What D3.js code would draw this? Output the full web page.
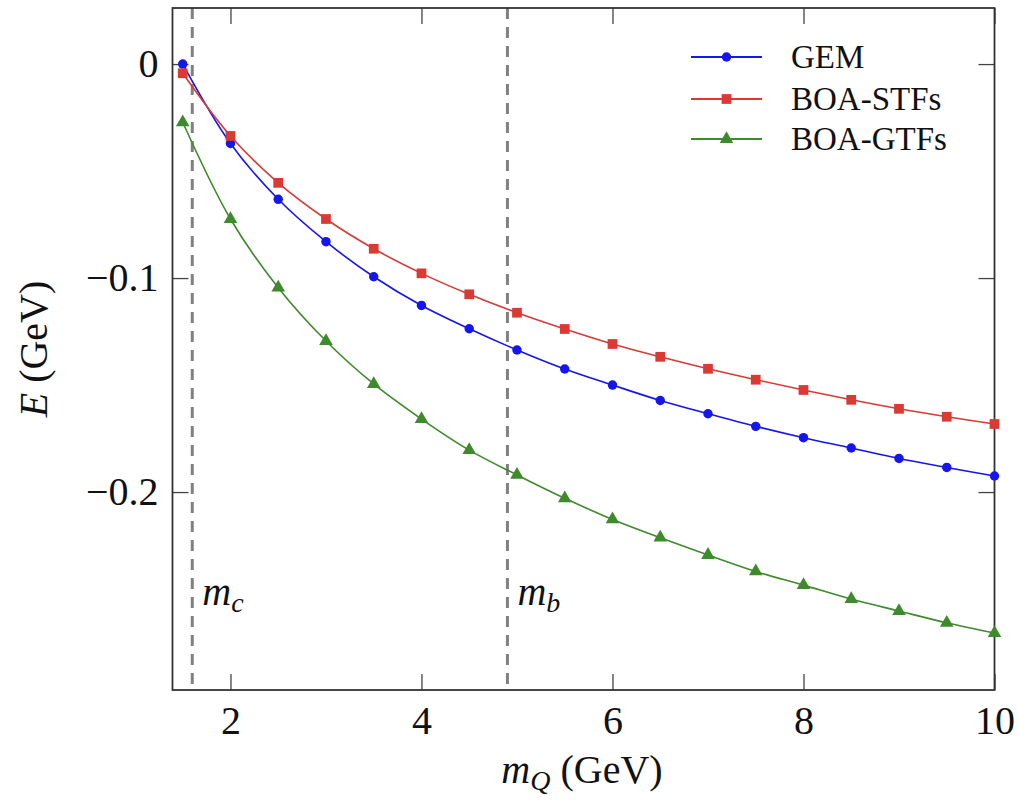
<!DOCTYPE html>
<html>
<head>
<meta charset="utf-8">
<script src="https://cdn.jsdelivr.net/npm/d3@7"></script>
<style>
  html, body { margin: 0; padding: 0; background: #fff; }
  svg { display: block; }
  text { font-family: "Liberation Serif", "Times New Roman", serif; fill: #111; }
</style>
</head>
<body>
<svg id="chart" width="1018" height="800"></svg>
<script>
// ---- data ----
const massQ = [1.5, 2, 2.5, 3, 3.5, 4, 4.5, 5, 5.5, 6, 6.5, 7, 7.5, 8, 8.5, 9, 9.5, 10];
const gem    = [0, -0.0371, -0.0632, -0.0830, -0.0994, -0.1128, -0.1237, -0.1336, -0.1425, -0.1500, -0.1572, -0.1634, -0.1693, -0.1746, -0.1794, -0.1843, -0.1885, -0.1925];
const boaSTF = [-0.0043, -0.0336, -0.0555, -0.0724, -0.0863, -0.0978, -0.1076, -0.1162, -0.1238, -0.1308, -0.1368, -0.1424, -0.1475, -0.1523, -0.1569, -0.1611, -0.1648, -0.1682];
const boaGTF = [-0.0272, -0.0724, -0.1045, -0.1294, -0.1495, -0.1659, -0.1804, -0.1920, -0.2029, -0.2128, -0.2213, -0.2294, -0.2371, -0.2435, -0.2500, -0.2556, -0.2611, -0.2659];
const seriesNames = ["GEM", "BOA-STFs", "BOA-GTFs"];
const xTicks = [2, 4, 6, 8, 10];
const yTicks = [0, -0.1, -0.2];
const yTickLabels = ["0", "\u22120.1", "\u22120.2"];
const thresholds = [{name: "c", value: 1.6}, {name: "b", value: 4.9}];

// ---- layout ----
const svg = d3.select("#chart");
const L = 172.5, R = 994.5, T = 8, B = 690;
const x = d3.scaleLinear().domain([1.393, 10]).range([L, R]);
const y = d3.scaleLinear().domain([0.0262, -0.2925]).range([T, B]);

const colors = ["#1515f0", "#d93a34", "#3f8a2c"];
const series = [gem, boaSTF, boaGTF].map((vals, i) => ({
  name: seriesNames[i], color: colors[i],
  pts: massQ.map((m, j) => ({x: m, y: vals[j]}))
}));

// threshold dashed lines
thresholds.forEach(t => {
  svg.append("line")
    .attr("x1", x(t.value)).attr("x2", x(t.value))
    .attr("y1", T).attr("y2", B)
    .attr("stroke", "#808080").attr("stroke-width", 3)
    .attr("stroke-dasharray", "11,8");
  const lab = svg.append("text")
    .attr("x", x(t.value) + 10).attr("y", 605)
    .attr("font-size", 40).attr("font-style", "italic");
  lab.append("tspan").text("m");
  lab.append("tspan").attr("font-size", 28).attr("dy", 7).text(t.name);
});

// axes (ticks inward on all sides)
const tickLen = 16;
const axB = svg.append("g").attr("transform", `translate(0,${B})`)
  .call(d3.axisBottom(x).tickValues(xTicks).tickSize(-tickLen).tickPadding(16).tickFormat(d3.format("d")));
const axT = svg.append("g").attr("transform", `translate(0,${T})`)
  .call(d3.axisTop(x).tickValues(xTicks).tickSize(-tickLen).tickFormat(""));
const axL = svg.append("g").attr("transform", `translate(${L},0)`)
  .call(d3.axisLeft(y).tickValues(yTicks).tickSize(-tickLen).tickPadding(14).tickFormat((d, i) => yTickLabels[i]));
const axR = svg.append("g").attr("transform", `translate(${R},0)`)
  .call(d3.axisRight(y).tickValues(yTicks).tickSize(-tickLen).tickFormat(""));
[axB, axT, axL, axR].forEach(g => {
  g.select(".domain").remove();
  g.selectAll(".tick line").attr("stroke", "#444").attr("stroke-width", 1.3);
  g.selectAll("text").attr("font-size", 40).attr("font-family", "Liberation Serif").attr("fill", "#111");
});
axB.selectAll(".tick text").attr("dy", "0.71em");
axL.selectAll(".tick text").attr("dy", "0.32em");

// frame
svg.append("rect").attr("x", L).attr("y", T).attr("width", R - L).attr("height", B - T)
  .attr("fill", "none").attr("stroke", "#333").attr("stroke-width", 1.8);

// series lines and markers
const line = d3.line().x(d => x(d.x)).y(d => y(d.y)).curve(d3.curveCatmullRom.alpha(0.5));
const sym = [d3.symbolCircle, d3.symbolSquare, d3.symbolTriangle];
const symSize = [70, 95, 80];
series.forEach((s, i) => {
  svg.append("path").datum(s.pts).attr("d", line)
    .attr("fill", "none").attr("stroke", s.color).attr("stroke-width", 1.6);
  svg.append("g").selectAll("path").data(s.pts).join("path")
    .attr("transform", d => `translate(${x(d.x)},${y(d.y)})`)
    .attr("d", d3.symbol().type(sym[i]).size(symSize[i]))
    .attr("fill", s.color);
});

// legend
const legY = [57, 99, 139];
series.forEach((s, i) => {
  const g = svg.append("g").attr("transform", `translate(0,${legY[i]})`);
  g.append("line").attr("x1", 691).attr("x2", 762).attr("y1", 0).attr("y2", 0)
    .attr("stroke", s.color).attr("stroke-width", 1.8);
  g.append("path").attr("transform", "translate(726.5,0)")
    .attr("d", d3.symbol().type(sym[i]).size(symSize[i])).attr("fill", s.color);
  g.append("text").attr("x", 791).attr("y", 11).attr("font-size", 33).text(s.name);
});

// axis labels
const xl = svg.append("text").attr("x", 582).attr("y", 783).attr("text-anchor", "middle").attr("font-size", 40);
xl.append("tspan").attr("font-style", "italic").text("m");
xl.append("tspan").attr("font-style", "italic").attr("font-size", 28).attr("dy", 7).text("Q");
xl.append("tspan").attr("dy", -7).text(" (GeV)");

const yl = svg.append("text").attr("transform", "translate(47,349) rotate(-90)")
  .attr("text-anchor", "middle").attr("font-size", 40);
yl.append("tspan").attr("font-style", "italic").text("E");
yl.append("tspan").text(" (GeV)");
</script>
</body>
</html>
